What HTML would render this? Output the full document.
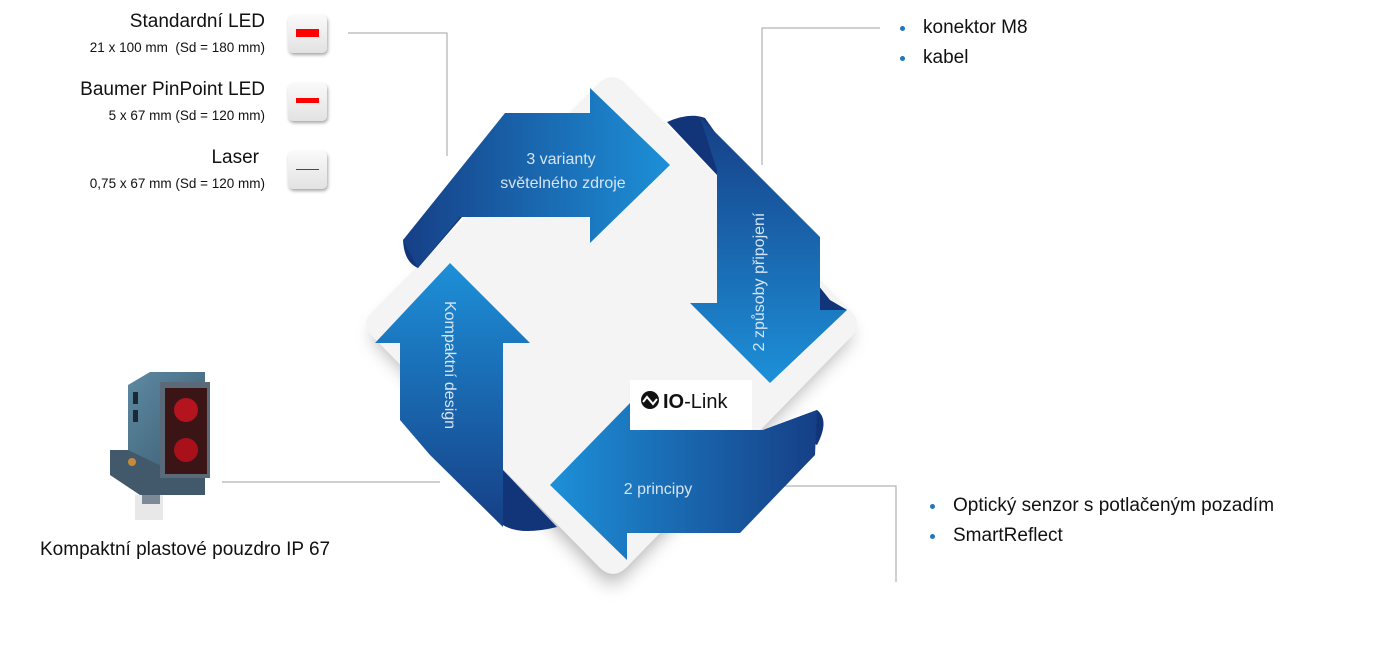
<!DOCTYPE html>
<html><head><meta charset="utf-8"><style>
body{margin:0;width:1389px;height:665px;background:#fff;position:relative;overflow:hidden;font-family:"Liberation Sans",sans-serif;color:#111}
.t{position:absolute;white-space:nowrap}
.r{text-align:right;right:1124px}
.big{font-size:19px}
.sm{font-size:13.5px}
.btn{position:absolute;left:288px;width:39px;height:38px;border-radius:5px;background:linear-gradient(#fafafa,#e2e2e2);box-shadow:1px 2px 3px rgba(0,0,0,.35)}
.btn i{position:absolute;left:8px;width:23px;background:#f00}
ul{margin:0;padding:0;list-style:none}
li{position:relative;padding-left:27px;font-size:19px;line-height:30px}
li:before{content:"";position:absolute;left:4px;top:13px;width:5px;height:5px;border-radius:50%;background:#1f77c0}
</style></head><body>
<div class="t r big" style="top:11px">Standardní LED</div>
<div class="t r sm" style="top:40px">21 x 100 mm&nbsp; (Sd = 180 mm)</div>
<div class="t r big" style="top:79px">Baumer PinPoint LED</div>
<div class="t r sm" style="top:108px">5 x 67 mm (Sd = 120 mm)</div>
<div class="t r big" style="top:147px;right:1130px">Laser</div>
<div class="t r sm" style="top:176px">0,75 x 67 mm (Sd = 120 mm)</div>
<div class="btn" style="top:15px"><i style="top:14px;height:8px"></i></div>
<div class="btn" style="top:83px"><i style="top:15px;height:5px"></i></div>
<div class="btn" style="top:151px"><i style="top:18px;height:1px"></i></div>

<ul class="t" style="left:896px;top:13px"><li>konektor M8</li><li>kabel</li></ul>
<ul class="t" style="left:926px;top:491px"><li>Optický senzor s potlačeným pozadím</li><li>SmartReflect</li></ul>
<div class="t" style="left:40px;top:539px;font-size:19px">Kompaktní plastové pouzdro IP 67</div>

<svg width="1389" height="665" style="position:absolute;left:0;top:0">
<defs>
<linearGradient id="gr" x1="0" y1="0" x2="1" y2="0"><stop offset="0" stop-color="#163f86"/><stop offset="1" stop-color="#1d90d8"/></linearGradient>
<linearGradient id="gd" x1="0" y1="0" x2="0" y2="1"><stop offset="0" stop-color="#163f86"/><stop offset="1" stop-color="#1d90d8"/></linearGradient>
<linearGradient id="gl" x1="1" y1="0" x2="0" y2="0"><stop offset="0" stop-color="#163f86"/><stop offset="1" stop-color="#1d90d8"/></linearGradient>
<linearGradient id="gu" x1="0" y1="1" x2="0" y2="0"><stop offset="0" stop-color="#163f86"/><stop offset="1" stop-color="#1d90d8"/></linearGradient>
<linearGradient id="sb" x1="0" y1="0" x2="1" y2="1"><stop offset="0" stop-color="#5d8aa3"/><stop offset="1" stop-color="#3c5b70"/></linearGradient>
<filter id="sh" x="-20%" y="-20%" width="140%" height="140%"><feGaussianBlur stdDeviation="10"/></filter>
</defs>
<g stroke="#a0a0a0" stroke-width="1" fill="none">
<polyline points="348,33 447,33 447,156"/>
<polyline points="880,28 762,28 762,165"/>
<polyline points="222,482 440,482"/>
<polyline points="772,486 896,486 896,582"/>
</g>
<polygon points="612,85 852,325 612,575 372,325" fill="#000" opacity=".35" filter="url(#sh)" transform="translate(0,10)"/>
<path d="M600,82 Q612,72 624,82 L852,312 Q862,324 852,336 L626,568 Q613,580 600,568 L372,336 Q360,324 372,312 Z" fill="#f4f4f5"/>
<!-- dark folds -->
<path d="M403,240 L428,215 L462,217 L418,268 Q404,262 403,240Z" fill="#12357a"/>
<path d="M667,122 Q690,112 705,118 L717,135 L717,175 Z" fill="#12357a"/>
<path d="M818,285 L830,300 L847,310 L820,330Z" fill="#12357a"/>
<path d="M763,430 L817,410 Q830,420 817,445 L790,430Z" fill="#12357a"/>
<path d="M503,470 L557,527 Q520,536 503,525Z" fill="#12357a"/>
<!-- arrows -->
<polygon points="403,240 505,113 590,113 590,88 670,165 590,243 590,217 460,217 418,268" fill="url(#gr)"/>
<polygon points="700,117 820,237 820,310 847,310 770,383 690,303 717,303 717,170" fill="url(#gd)"/>
<polygon points="817,410 815,455 740,533 627,533 627,560 550,485 630,403 630,430 763,430" fill="url(#gl)"/>
<polygon points="400,343 375,343 450,263 530,343 503,343 503,527 430,455 400,420" fill="url(#gu)"/>
<rect x="630" y="380" width="122" height="50" fill="#fff"/>
<circle cx="650" cy="400" r="9" fill="#111"/>
<path d="M643,402 l4,-5 l6,7 l4,-5" stroke="#fff" stroke-width="2" fill="none"/>
<text x="663" y="408" font-family="Liberation Sans" font-size="20" fill="#111"><tspan font-weight="bold">IO</tspan>-Link</text>
<g font-family="Liberation Sans" font-size="16" fill="#d6e4f2" text-anchor="middle">
<text x="561" y="164">3 varianty</text>
<text x="563" y="188">světelného zdroje</text>
<text x="658" y="494">2 principy</text>
<text transform="translate(764,282) rotate(-90)">2 způsoby připojení</text>
<text transform="translate(445,365) rotate(90)">Kompaktní design</text>
</g>
<!-- sensor -->
<rect x="135" y="495" width="28" height="25" fill="#e8e8e8"/>
<rect x="142" y="488" width="18" height="16" fill="#7b8a96"/>
<polygon points="110,450 175,450 205,470 205,495 140,495 110,475" fill="#42596c"/>
<polygon points="128,385 150,372 205,372 205,470 170,470 128,450" fill="url(#sb)"/>
<rect x="160" y="382" width="50" height="96" fill="#5a6a78"/>
<rect x="165" y="388" width="42" height="86" fill="#3b1416"/>
<circle cx="186" cy="410" r="12" fill="#b3141d"/>
<circle cx="186" cy="450" r="12" fill="#a8101a"/>
<circle cx="132" cy="462" r="4" fill="#c78a3a"/>
<rect x="133" y="392" width="5" height="12" fill="#1a2a35"/>
<rect x="133" y="410" width="5" height="12" fill="#1a2a35"/>
</svg>
</body></html>
